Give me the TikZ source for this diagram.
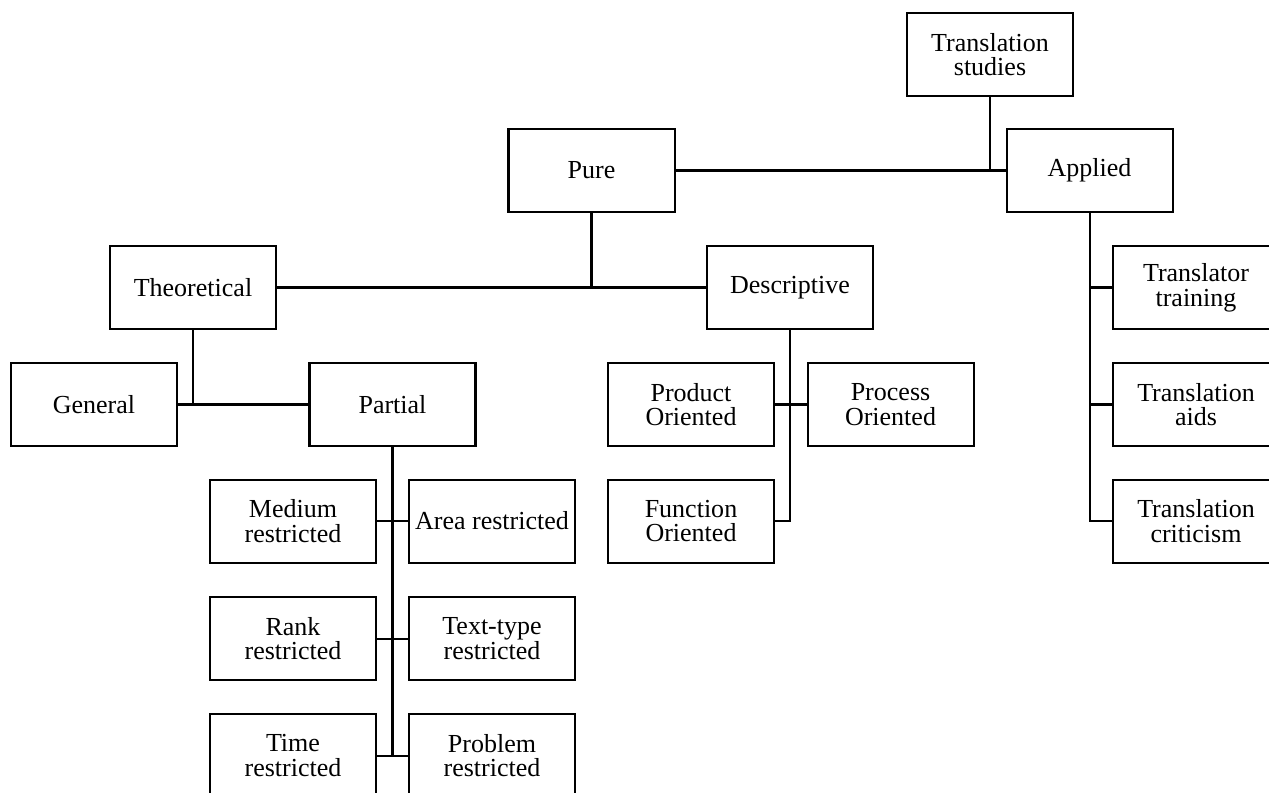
\documentclass[tikz,border=0pt]{standalone}
\usepackage{fontspec}
\setmainfont{Liberation Serif}
\usepackage{tikz}
\usetikzlibrary{positioning,calc}

\begin{document}
\begin{tikzpicture}[
    box/.style={draw, rectangle, line width=1.15pt, minimum width=3.32cm, minimum height=1.66cm,
      inner sep=1pt, align=center, font=\fontsize{14.8}{14}\selectfont},
    link/.style={line width=1.15pt}]
      \useasboundingbox (0,0) rectangle (25.38,-15.84);

      %radice
      \node[box] (ts) at (19.80,-1.09) {Translation\\studies};
      \node[box] (pure) at (11.83,-3.41) {Pure};
      \node[box] (applied) at (21.79,-3.41) {Applied};

      %pure
      \node[box] (theo) at (3.86,-5.75) {Theoretical};
      \node[box] (desc) at (15.80,-5.75) {Descriptive};
      \node[box] (general) at (1.88,-8.09) {General};
      \node[box] (partial) at (7.85,-8.09) {Partial};
      \node[box] (product) at (13.82,-8.09) {Product\\Oriented};
      \node[box] (process) at (17.81,-8.09) {Process\\Oriented};
      \node[box] (function) at (13.82,-10.42) {Function\\Oriented};

      %partial
      \node[box] (medium) at (5.86,-10.42) {Medium\\restricted};
      \node[box] (area) at (9.84,-10.42) {Area restricted};
      \node[box] (rank) at (5.86,-12.77) {Rank\\restricted};
      \node[box] (texttype) at (9.84,-12.77) {Text-type\\restricted};
      \node[box] (time) at (5.86,-15.11) {Time\\restricted};
      \node[box] (problem) at (9.84,-15.11) {Problem\\restricted};

      %applied
      \node[box] (ttrain) at (23.92,-5.75) {Translator\\training};
      \node[box] (taids) at (23.92,-8.09) {Translation\\aids};
      \node[box] (tcrit) at (23.92,-10.42) {Translation\\criticism};

      %collegamenti
      \draw[link] (ts.south) -- (ts.south |- pure.east);
      \draw[link] (pure.east) -- (applied.west);
      \draw[link] (pure.south) -- (pure.south |- theo.east);
      \draw[link] (theo.east) -- (desc.west);
      \draw[link] (theo.south) -- (theo.south |- general.east);
      \draw[link] (general.east) -- (partial.west);
      \draw[link] (desc.south) -- (desc.south |- function.east) -- (function.east);
      \draw[link] (product.east) -- (process.west);
      \draw[link] (partial.south) -- (partial.south |- time.east);
        \draw[link] (medium.east) -- (area.west);
        \draw[link] (rank.east) -- (texttype.west);
        \draw[link] (time.east) -- (problem.west);
      \draw[link] (applied.south) -- (applied.south |- tcrit.west) -- (tcrit.west);
        \draw[link] (applied.south |- ttrain.west) -- (ttrain.west);
        \draw[link] (applied.south |- taids.west) -- (taids.west);
    \end{tikzpicture}
\end{document}
